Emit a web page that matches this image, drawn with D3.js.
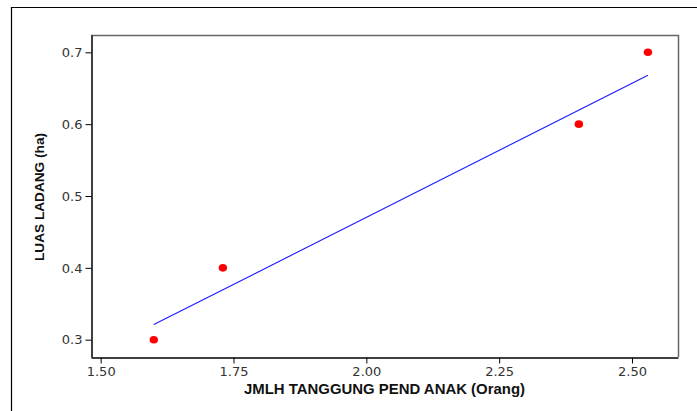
<!DOCTYPE html>
<html>
<head>
  <meta charset="utf-8">
  <script src="https://d3js.org/d3.v7.min.js"></script>
  <style>
    body { margin: 0; background: #fff; }
    svg { display: block; }
  </style>
</head>
<body>
  <svg id="chart"></svg>

  <script>
    // observed points
    var anak = [1.60, 1.73, 2.40, 2.53];
    var luas = [0.30, 0.40, 0.60, 0.70];

    // fitted line ends
    var fitX = [1.60, 2.53];
    var fitY = [0.321, 0.668];

    var xTicks = [1.50, 1.75, 2.00, 2.25, 2.50];
    var yTicks = [0.3, 0.4, 0.5, 0.6, 0.7];

    var width = 697, height = 411;
    var svg = d3.select("#chart").attr("width", width).attr("height", height);

    // plot frame (note: "top" is taken by window.top, so use other names)
    var fLeft = 91, fRight = 678, fTop = 35, fBottom = 357;

    var x = d3.scaleLinear().domain([1.4818, 2.5866]).range([fLeft, fRight]);
    var y = d3.scaleLinear().domain([0.2759, 0.7241]).range([fBottom, fTop]);

    // outer border (runs off the right and bottom of the picture)
    svg.append("path")
       .attr("d", "M11.5," + height + "V7.5H" + width)
       .attr("fill", "none")
       .attr("stroke", "#000")
       .attr("stroke-width", 1.2);

    // frame top/right in grey
    svg.append("path")
       .attr("d", "M" + fLeft + "," + (fTop + 0.5) + "H" + (fRight + 0.5) + "V" + fBottom)
       .attr("fill", "none")
       .attr("stroke", "#666")
       .attr("stroke-width", 1.5);

    // x axis
    var xAxis = svg.append("g")
       .attr("transform", "translate(0," + (fBottom + 0.5) + ")")
       .call(d3.axisBottom(x).tickValues(xTicks).tickFormat(d3.format(".2f"))
               .tickSize(6).tickSizeOuter(0).tickPadding(3));

    // y axis
    var yAxis = svg.append("g")
       .attr("transform", "translate(" + (fLeft + 0.5) + ",0)")
       .call(d3.axisLeft(y).tickValues(yTicks).tickFormat(d3.format(".1f"))
               .tickSize(6).tickSizeOuter(0).tickPadding(3));

    [xAxis, yAxis].forEach(function(g) {
      g.select(".domain").attr("stroke", "#000").attr("stroke-width", 1.5);
      g.selectAll(".tick line").attr("stroke", "#000");
      g.selectAll(".tick text")
       .attr("fill", "#333")
       .style("font-family", "'DejaVu Sans', Verdana, sans-serif")
       .style("font-size", "13px");
    });

    // regression line
    svg.append("line")
       .attr("x1", x(fitX[0])).attr("y1", y(fitY[0]))
       .attr("x2", x(fitX[1])).attr("y2", y(fitY[1]))
       .attr("stroke", "#1a1aff")
       .attr("stroke-width", 1.1);

    // points
    svg.append("g")
       .selectAll("ellipse")
       .data(anak)
       .join("ellipse")
       .attr("cx", function(d) { return x(d); })
       .attr("cy", function(d, i) { return y(luas[i]); })
       .attr("rx", 4.2)
       .attr("ry", 3.8)
       .attr("fill", "#ff0000");

    // axis titles
    svg.append("text")
       .attr("x", (fLeft + fRight) / 2)
       .attr("y", 394)
       .attr("text-anchor", "middle")
       .attr("textLength", 281)
       .attr("lengthAdjust", "spacingAndGlyphs")
       .style("font-family", "'Liberation Sans', Arial, sans-serif")
       .style("font-weight", "bold")
       .style("font-size", "14px")
       .attr("fill", "#111")
       .text("JMLH TANGGUNG PEND ANAK (Orang)");

    svg.append("text")
       .attr("transform", "translate(44,197) rotate(-90)")
       .attr("text-anchor", "middle")
       .attr("textLength", 128)
       .attr("lengthAdjust", "spacingAndGlyphs")
       .style("font-family", "'Liberation Sans', Arial, sans-serif")
       .style("font-weight", "bold")
       .style("font-size", "12px")
       .attr("fill", "#111")
       .text("LUAS LADANG (ha)");
  </script>
</body>
</html>
